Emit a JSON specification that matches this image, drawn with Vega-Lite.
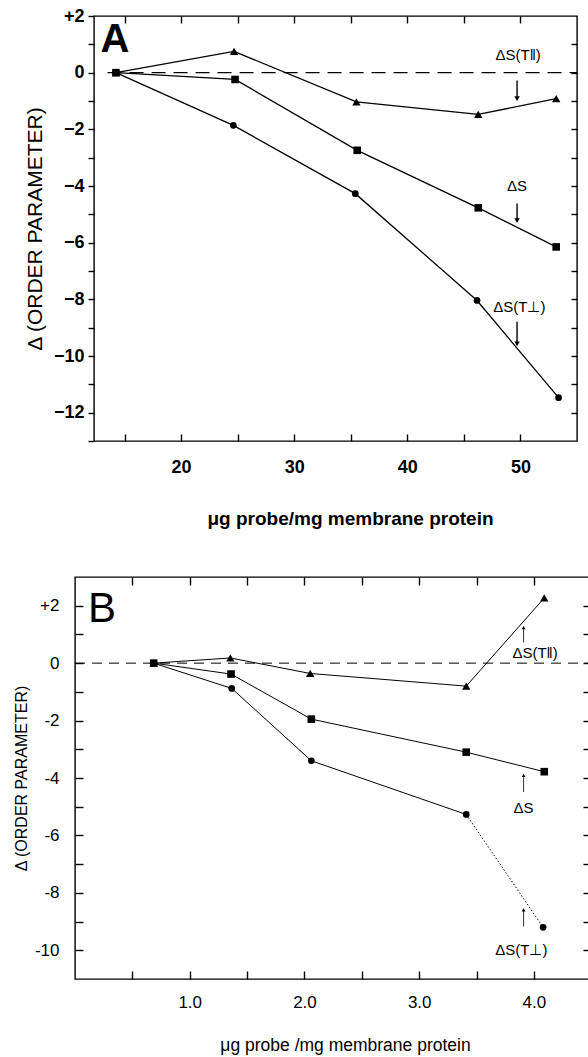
{
  "$schema": "https://vega.github.io/schema/vega-lite/v6.json",
  "padding": {"left": 12, "top": 6, "right": 0, "bottom": 0},
  "background": "white",
  "bounds": "flush",
  "spacing": 561,
  "config": {
    "view": {"stroke": "black", "strokeWidth": 1.4},
    "axis": {"grid": false, "domain": false, "tickColor": "black", "labelColor": "black", "titleColor": "black", "labelOverlap": false, "labelFlush": false, "tickWidth": 1.4}
  },
  "datasets": {
    "A": [
      {"s": "par", "x": 14.24, "y": 0},
      {"s": "par", "x": 24.68, "y": 0.75},
      {"s": "par", "x": 35.5, "y": -1.03},
      {"s": "par", "x": 46.27, "y": -1.47},
      {"s": "par", "x": 53.16, "y": -0.92},
      {"s": "s", "x": 14.24, "y": 0},
      {"s": "s", "x": 24.77, "y": -0.24},
      {"s": "s", "x": 35.57, "y": -2.74},
      {"s": "s", "x": 46.27, "y": -4.77},
      {"s": "s", "x": 53.16, "y": -6.15},
      {"s": "perp", "x": 14.24, "y": 0},
      {"s": "perp", "x": 24.62, "y": -1.86},
      {"s": "perp", "x": 35.4, "y": -4.27},
      {"s": "perp", "x": 46.16, "y": -8.04},
      {"s": "perp", "x": 53.37, "y": -11.47}
    ],
    "Alab": [
      {"x": 49.8, "y": 0.64, "t": "ΔS(T‖)"},
      {"x": 49.7, "y": -3.99, "t": "ΔS"},
      {"x": 49.9, "y": -8.26, "t": "ΔS(T⊥)"}
    ],
    "Aarr": [
      {"x": 49.7, "y1": -0.28, "y2": -0.92},
      {"x": 49.7, "y1": -4.62, "y2": -5.22},
      {"x": 49.7, "y1": -8.79, "y2": -9.57}
    ],
    "B": [
      {"s": "par", "x": 0.686, "y": 0},
      {"s": "par", "x": 1.354, "y": 0.18},
      {"s": "par", "x": 2.05, "y": -0.36},
      {"s": "par", "x": 3.41, "y": -0.8},
      {"s": "par", "x": 4.09, "y": 2.27},
      {"s": "s", "x": 0.686, "y": 0},
      {"s": "s", "x": 1.36, "y": -0.38},
      {"s": "s", "x": 2.06, "y": -1.95},
      {"s": "s", "x": 3.41, "y": -3.1},
      {"s": "s", "x": 4.09, "y": -3.78},
      {"s": "perp", "x": 0.686, "y": 0},
      {"s": "perp", "x": 1.366, "y": -0.88},
      {"s": "perp", "x": 2.06, "y": -3.4},
      {"s": "perp", "x": 3.41, "y": -5.27},
      {"s": "perp", "x": 4.08, "y": -9.2}
    ],
    "Blab": [
      {"x": 4.01, "y": 0.35, "t": "ΔS(T‖)"},
      {"x": 3.91, "y": -5.03, "t": "ΔS"},
      {"x": 3.89, "y": -10.0, "t": "ΔS(T⊥)"}
    ],
    "Barr": [
      {"x": 3.91, "y1": 0.72, "y2": 1.24},
      {"x": 3.91, "y1": -4.49, "y2": -3.91},
      {"x": 3.91, "y1": -9.17, "y2": -8.59}
    ]
  },
  "vconcat": [
    {
      "hconcat": [
        {
          "width": 19, "height": 425,
          "view": {"stroke": null},
          "data": {"values": []},
          "mark": "point"
        },
        {
          "width": 483, "height": 425,
          "resolve": {"axis": {"x": "independent", "y": "independent"}},
          "layer": [
            {
              "data": {"name": "A"},
              "mark": {"type": "line", "color": "black", "strokeWidth": 1.3},
              "encoding": {
                "x": {"field": "x", "type": "quantitative", "scale": {"domain": [12.3, 55], "nice": false, "zero": false},
                  "axis": {"orient": "bottom", "values": [20, 30, 40, 50], "ticks": false, "labelPadding": 17,
                    "labelFont": "Liberation Sans", "labelFontSize": 18, "labelFontWeight": "bold",
                    "title": "μg probe/mg membrane protein", "titleFont": "Liberation Sans", "titleFontSize": 19, "titleFontWeight": "bold", "titlePadding": 33, "titleX": 256}},
                "y": {"field": "y", "type": "quantitative", "scale": {"domain": [-13, 2], "nice": false, "zero": false},
                  "axis": {"orient": "left", "values": [-13, -12, -11, -10, -9, -8, -7, -6, -5, -4, -3, -2, -1, 0, 1, 2], "tickSize": 6, "labelPadding": 4,
                    "labelExpr": "datum.value % 2 == 0 ? (datum.value > 0 ? '+' + datum.value : (datum.value < 0 ? '−' + abs(datum.value) : '0')) : ''",
                    "labelFont": "Liberation Sans", "labelFontSize": 18, "labelFontWeight": "bold",
                    "title": "Δ (ORDER PARAMETER)", "titleFont": "Liberation Sans", "titleFontSize": 21, "titleFontWeight": "normal", "titleX": -59, "titleBaseline": "middle"}},
                "detail": {"field": "s"}
              }
            },
            {
              "data": {"name": "A"},
              "mark": {"type": "point", "filled": true, "color": "black", "opacity": 1},
              "encoding": {
                "x": {"field": "x", "type": "quantitative",
                  "axis": {"orient": "bottom", "values": [15, 20, 25, 30, 35, 40, 45, 50], "tickSize": -7, "labels": false, "title": null}},
                "y": {"field": "y", "type": "quantitative",
                  "axis": {"orient": "right", "values": [-12, -11, -10, -9, -8, -7, -6, -5, -4, -3, -2, -1, 0, 1], "tickSize": -6, "labels": false, "title": null}},
                "shape": {"field": "s", "scale": {"domain": ["par", "s", "perp"], "range": ["triangle-up", "square", "circle"]}, "legend": null},
                "size": {"field": "s", "scale": {"domain": ["par", "s", "perp"], "range": [70, 45, 38]}, "legend": null}
              }
            },
            {
              "data": {"values": [{}]},
              "mark": {"type": "rule", "color": "black", "strokeWidth": 1.2, "strokeDash": [14, 8]},
              "encoding": {
                "x": {"datum": 13.5, "type": "quantitative",
                  "axis": {"orient": "top", "values": [15, 20, 25, 30, 35, 40, 45, 50], "tickSize": -7, "labels": false, "title": null}},
                "x2": {"datum": 55},
                "y": {"datum": 0, "type": "quantitative", "axis": null}
              }
            },
            {
              "data": {"name": "Alab"},
              "mark": {"type": "text", "font": "Liberation Sans", "fontSize": 15, "color": "black"},
              "encoding": {
                "x": {"field": "x", "type": "quantitative", "axis": null},
                "y": {"field": "y", "type": "quantitative", "axis": null},
                "text": {"field": "t"}
              }
            },
            {
              "data": {"name": "Aarr"},
              "mark": {"type": "rule", "color": "black", "strokeWidth": 1.4},
              "encoding": {
                "x": {"field": "x", "type": "quantitative", "axis": null},
                "y": {"field": "y1", "type": "quantitative", "axis": null},
                "y2": {"field": "y2"}
              }
            },
            {
              "data": {"name": "Aarr"},
              "mark": {"type": "point", "shape": "triangle-down", "filled": true, "color": "black", "opacity": 1, "size": 30},
              "encoding": {
                "x": {"field": "x", "type": "quantitative", "axis": null},
                "y": {"field": "y2", "type": "quantitative", "axis": null}
              }
            },
            {
              "data": {"values": [{"x": 14.15, "y": 1.165, "t": "A"}]},
              "mark": {"type": "text", "font": "Liberation Sans", "fontSize": 40, "fontWeight": "bold", "color": "black"},
              "encoding": {
                "x": {"field": "x", "type": "quantitative", "axis": null},
                "y": {"field": "y", "type": "quantitative", "axis": null},
                "text": {"field": "t"}
              }
            }
          ]
        }
      ],
      "spacing": 0,
      "bounds": "flush"
    },
    {
      "width": 514, "height": 402,
      "resolve": {"axis": {"x": "independent", "y": "independent"}},
      "layer": [
        {
          "data": {"name": "B"},
          "transform": [{"filter": "!(datum.s == 'perp' && datum.x > 3.5)"}],
          "mark": {"type": "line", "color": "black", "strokeWidth": 1},
          "encoding": {
            "x": {"field": "x", "type": "quantitative", "scale": {"domain": [0, 4.48], "nice": false, "zero": false},
              "axis": {"orient": "bottom", "values": [1, 2, 3, 4], "format": ".1f", "ticks": false, "labelPadding": 15,
                "labelFont": "Liberation Sans", "labelFontSize": 17, "labelFontWeight": "normal",
                "title": "μg probe /mg membrane protein", "titleFont": "Liberation Sans", "titleFontSize": 17.5, "titleFontWeight": "normal", "titlePadding": 26, "titleX": 270}},
            "y": {"field": "y", "type": "quantitative", "scale": {"domain": [-11, 3], "nice": false, "zero": false},
              "axis": {"orient": "left", "values": [-10, -8, -6, -4, -2, 0, 2], "ticks": false, "labelPadding": 16,
                "labelExpr": "datum.value > 0 ? '+' + datum.value : (datum.value < 0 ? '-' + abs(datum.value) : '0')",
                "labelFont": "Liberation Sans", "labelFontSize": 17, "labelFontWeight": "normal",
                "title": "Δ (ORDER PARAMETER)", "titleFont": "Liberation Sans", "titleFontSize": 16, "titleFontWeight": "normal", "titleX": -54, "titleBaseline": "middle"}},
            "detail": {"field": "s"}
          }
        },
        {
          "data": {"name": "B"},
          "transform": [{"filter": "datum.s == 'perp' && datum.x > 3"}],
          "mark": {"type": "line", "color": "black", "strokeWidth": 1, "strokeDash": [1.5, 2]},
          "encoding": {
            "x": {"field": "x", "type": "quantitative", "axis": null},
            "y": {"field": "y", "type": "quantitative", "axis": null}
          }
        },
        {
          "data": {"name": "B"},
          "mark": {"type": "point", "filled": true, "color": "black", "opacity": 1},
          "encoding": {
            "x": {"field": "x", "type": "quantitative",
              "axis": {"orient": "bottom", "values": [0.5, 1, 1.5, 2, 2.5, 3, 3.5, 4], "tickSize": -8, "labels": false, "title": null}},
            "y": {"field": "y", "type": "quantitative",
              "axis": {"orient": "left", "values": [-10, -9, -8, -7, -6, -5, -4, -3, -2, -1, 0, 1, 2], "tickSize": -8, "labels": false, "title": null}},
            "shape": {"field": "s", "scale": {"domain": ["par", "s", "perp"], "range": ["triangle-up", "square", "circle"]}, "legend": null},
            "size": {"field": "s", "scale": {"domain": ["par", "s", "perp"], "range": [30, 36, 38]}, "legend": null}
          }
        },
        {
          "data": {"values": [{}]},
          "mark": {"type": "rule", "color": "black", "strokeWidth": 1, "strokeDash": [10, 7]},
          "encoding": {
            "x": {"datum": 0, "type": "quantitative",
              "axis": {"orient": "top", "values": [0.5, 1, 1.5, 2, 2.5, 3, 3.5, 4], "tickSize": -8, "labels": false, "title": null}},
            "x2": {"datum": 4.48},
            "y": {"datum": 0, "type": "quantitative",
              "axis": {"orient": "right", "values": [-10, -9, -8, -7, -6, -5, -4, -3, -2, -1, 0, 1, 2], "tickSize": -6, "labels": false, "title": null}}
          }
        },
        {
          "data": {"name": "Blab"},
          "mark": {"type": "text", "font": "Liberation Sans", "fontSize": 15, "color": "black"},
          "encoding": {
            "x": {"field": "x", "type": "quantitative", "axis": null},
            "y": {"field": "y", "type": "quantitative", "axis": null},
            "text": {"field": "t"}
          }
        },
        {
          "data": {"name": "Barr"},
          "mark": {"type": "rule", "color": "black", "strokeWidth": 0.8},
          "encoding": {
            "x": {"field": "x", "type": "quantitative", "axis": null},
            "y": {"field": "y1", "type": "quantitative", "axis": null},
            "y2": {"field": "y2"}
          }
        },
        {
          "data": {"name": "Barr"},
          "mark": {"type": "point", "shape": "triangle-up", "filled": true, "color": "black", "opacity": 1, "size": 14},
          "encoding": {
            "x": {"field": "x", "type": "quantitative", "axis": null},
            "y": {"field": "y2", "type": "quantitative", "axis": null}
          }
        },
        {
          "data": {"values": [{"x": 0.236, "y": 1.89, "t": "B"}]},
          "mark": {"type": "text", "font": "Liberation Sans", "fontSize": 42, "fontWeight": "normal", "color": "black"},
          "encoding": {
            "x": {"field": "x", "type": "quantitative", "axis": null},
            "y": {"field": "y", "type": "quantitative", "axis": null},
            "text": {"field": "t"}
          }
        }
      ]
    }
  ]
}
